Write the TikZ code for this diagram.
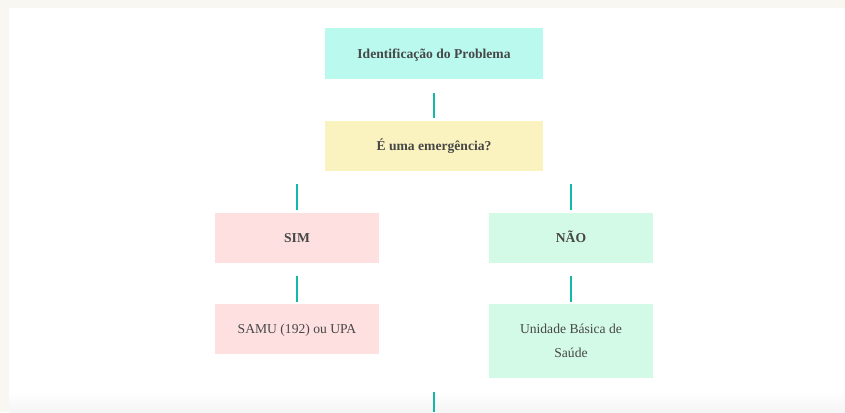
\documentclass[tikz,border=0pt]{standalone}
\usepackage{fontspec}
\setmainfont{Liberation Serif}
\begin{document}
\begin{tikzpicture}[x=1pt,y=-1pt,
  box/.style={draw=none,minimum width=164pt,minimum height=50pt,inner sep=0pt,text=textc,font=\fontsize{13.6}{24}\selectfont,align=center},
  one/.style={text height=12pt,text depth=1.4pt},
  wide/.style={box,minimum width=218pt},
  bold/.style={font=\fontsize{13.6}{24}\selectfont\bfseries},
  conn/.style={draw=linec,line width=1.8pt}]
\definecolor{bgc}{HTML}{F8F7F2}
\definecolor{textc}{HTML}{474747}
\definecolor{linec}{HTML}{14B8A6}
\definecolor{cyanc}{HTML}{B9F9EE}
\definecolor{yelc}{HTML}{FAF3C0}
\definecolor{pinkc}{HTML}{FEE0E1}
\definecolor{greenc}{HTML}{D2FAE6}
\useasboundingbox (0,0) rectangle (845,412);
\fill[bgc] (0,0) rectangle (845,412);
\fill[white] (9,8) rectangle (845,412);
\shade[top color=white,bottom color=black!4] (9,392) rectangle (845,412);
\node[wide,fill=cyanc,bold,one] (prob) at (434,53.5) {Identificação do Problema};
\node[wide,fill=yelc,bold,one] (emerg) at (434,145.5) {É uma emergência?};
\node[box,fill=pinkc,bold,one] (sim) at (297,237.5) {SIM};
\node[box,fill=greenc,bold,one] (nao) at (571,237.5) {NÃO};
\node[box,fill=pinkc,one] (samu) at (297,328.5) {SAMU (192) ou UPA};
\node[box,fill=greenc,minimum height=74pt] (ubs) at (571,340.5) {Unidade Básica de\\Saúde};
\coordinate (c1a) at (434,93); \coordinate (c1b) at (434,118);
\draw[conn] (c1a) -- (c1b);
\coordinate (c2a) at (297,184); \coordinate (c2b) at (297,210);
\draw[conn] (c2a) -- (c2b);
\coordinate (c3a) at (571,184); \coordinate (c3b) at (571,210);
\draw[conn] (c3a) -- (c3b);
\coordinate (c4a) at (297,276); \coordinate (c4b) at (297,302);
\draw[conn] (c4a) -- (c4b);
\coordinate (c5a) at (571,276); \coordinate (c5b) at (571,302);
\draw[conn] (c5a) -- (c5b);
\coordinate (c6a) at (434,392); \coordinate (c6b) at (434,412);
\draw[conn] (c6a) -- (c6b);
\end{tikzpicture}
\end{document}
